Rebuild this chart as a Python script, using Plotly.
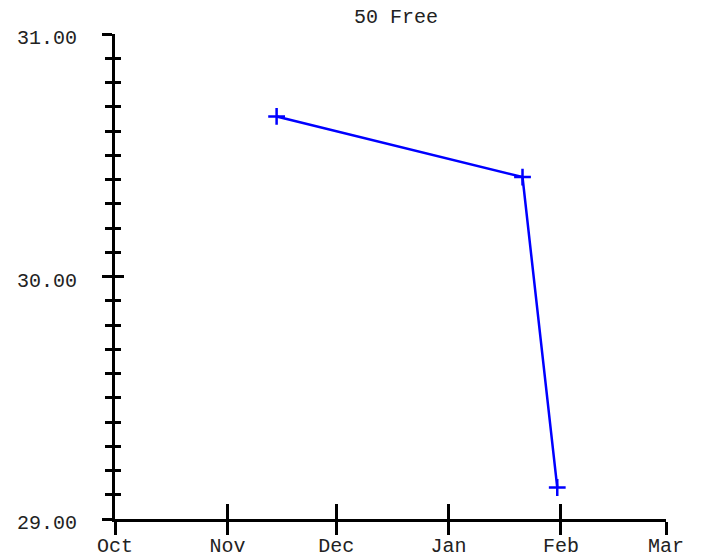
import plotly.graph_objects as go

# Data
dates = ["2019-11-14 14:00", "2020-01-21 10:00", "2020-01-31"]
times = [30.66, 30.41, 29.13]
title_text = "50 Free"
y_tickvals = [29, 30, 31]
x_range = ["2019-10-01", "2020-03-01"]
y_range = [29, 31]

FONT = dict(family="Liberation Mono, Courier New, monospace", size=20, color="#222222")

fig = go.Figure()
fig.add_trace(go.Scatter(
    x=dates, y=times, mode="lines+markers",
    line=dict(color="#0000ff", width=2.5),
    marker=dict(symbol="cross-thin", size=12, line=dict(color="#0000ff", width=2.5)),
    showlegend=False, hoverinfo="skip",
))
# invisible copy to create overlay axes (ticks on the other side)
fig.add_trace(go.Scatter(
    x=dates, y=times, mode="lines", xaxis="x2", yaxis="y2",
    line=dict(width=0), opacity=0, showlegend=False, hoverinfo="skip",
))

axis_common = dict(showgrid=False, zeroline=False, tickcolor="black", tickwidth=3,
                   automargin=False)

fig.update_layout(
    width=706, height=559,
    margin=dict(l=115, r=40, t=34, b=40, autoexpand=False),
    paper_bgcolor="white", plot_bgcolor="white",
    font=FONT,
    title=dict(text=title_text, x=396/706, xref="container", xanchor="center",
               y=1 - 16/559, yref="container", yanchor="middle", font=FONT,
               automargin=False),
    xaxis=dict(range=x_range, type="date", dtick="M1", tick0="2019-10-01",
               tickformat="%b", ticks="outside", ticklen=13,
               showline=True, linecolor="black", linewidth=3,
               ticklabelstandoff=-7, **axis_common),
    yaxis=dict(range=y_range, tickvals=y_tickvals, tickformat=".2f",
               ticks="outside", ticklen=10,
               minor=dict(dtick=0.1, tick0=29, ticks="outside", ticklen=7,
                          tickwidth=3, tickcolor="black"),
               showline=True, linecolor="black", linewidth=3,
               ticklabelstandoff=21, ticklabelshift=3, **axis_common),
    xaxis2=dict(range=x_range, type="date", dtick="M1", tick0="2019-10-01",
                overlaying="x", anchor="y2", ticks="inside", ticklen=15,
                showticklabels=False, showline=False, **axis_common),
    yaxis2=dict(range=y_range, tickvals=y_tickvals, overlaying="y", anchor="x2",
                ticks="inside", ticklen=9,
                minor=dict(dtick=0.1, tick0=29, ticks="inside", ticklen=6,
                           tickwidth=3, tickcolor="black"),
                showticklabels=False, showline=False, **axis_common),
)

fig.write_html("out.html", config={"displayModeBar": False},
               post_script="document.body.style.margin='0';")
